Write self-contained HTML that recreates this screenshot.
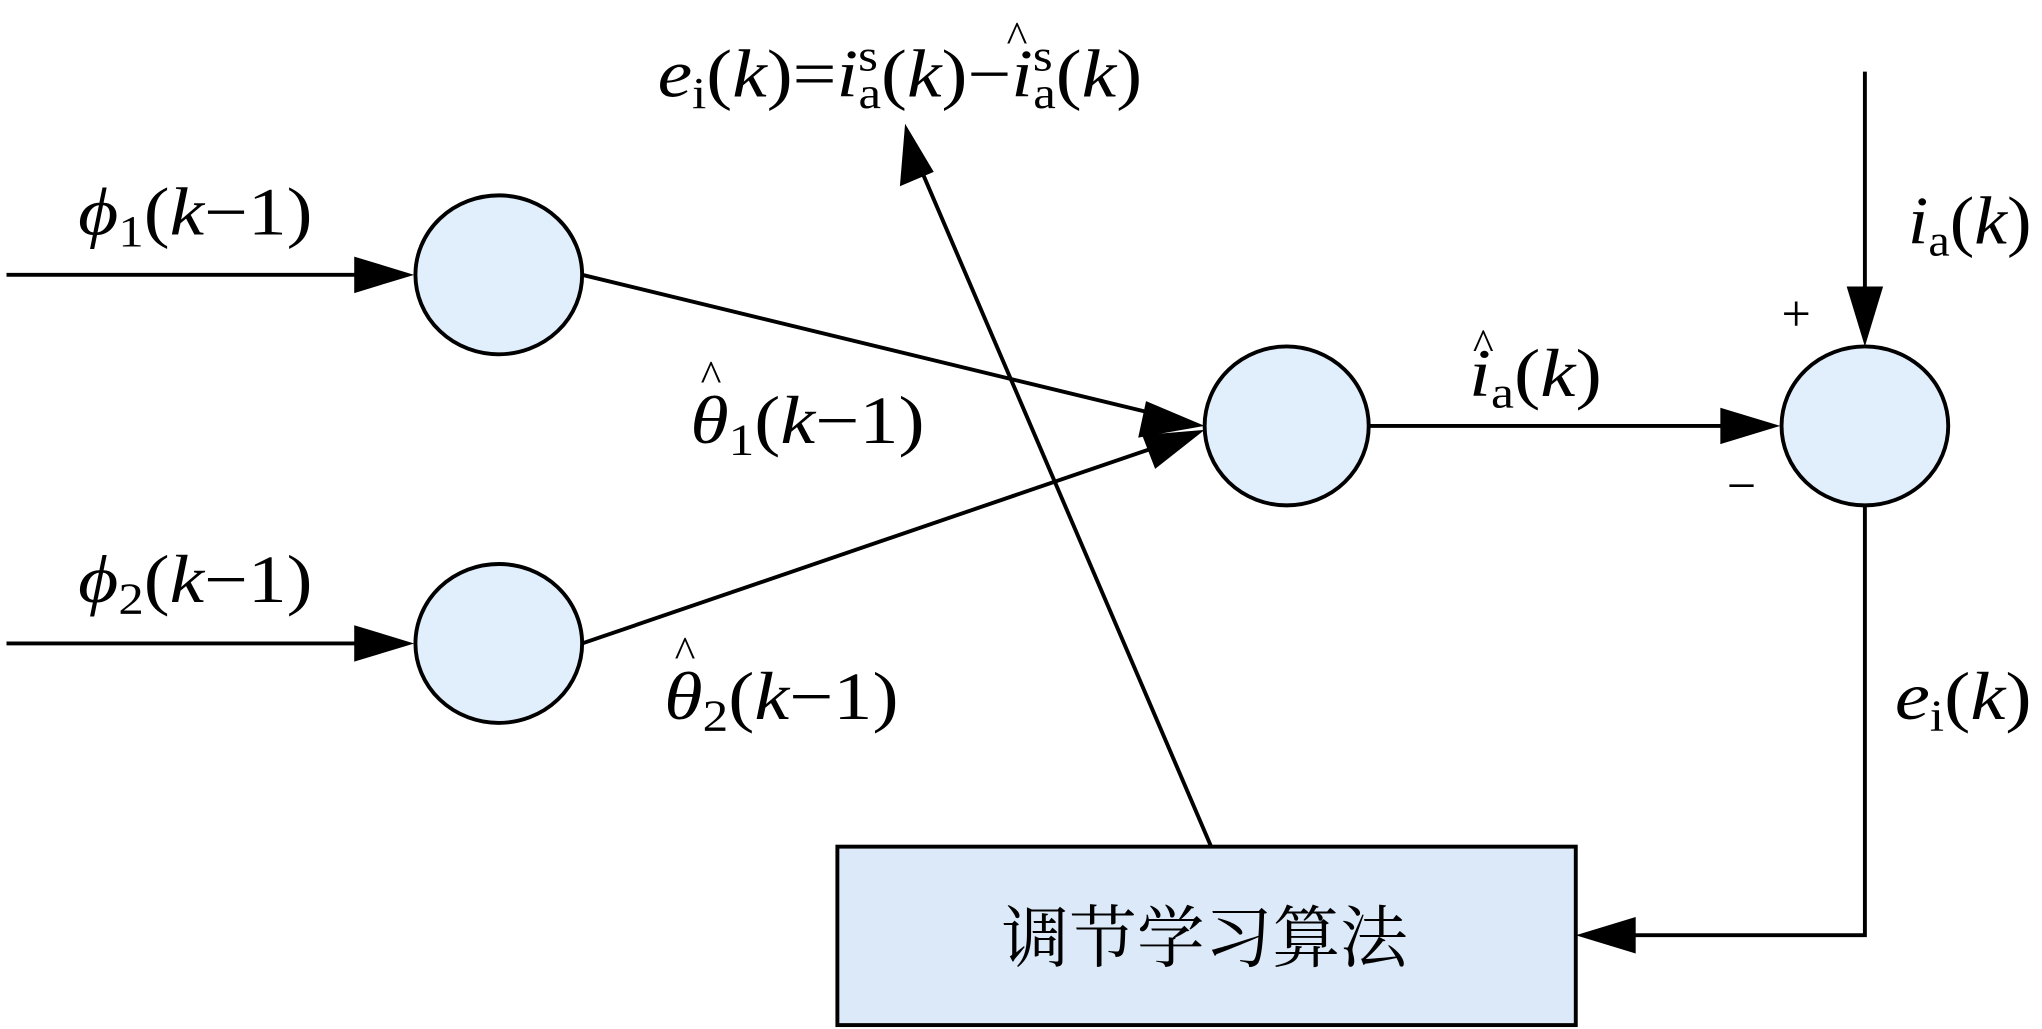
<!DOCTYPE html>
<html><head><meta charset="utf-8"><style>
html,body{margin:0;padding:0;background:#fff;}
svg{display:block;}
text{font-family:"Liberation Serif","Noto Serif CJK SC",serif;font-size:52px;fill:#000;}
.i{font-style:italic;}
.s{font-size:34px;}
.h{font-size:34px;}
</style></head><body>
<svg width="2042" height="1029" viewBox="0 0 1568 790" preserveAspectRatio="none" xmlns="http://www.w3.org/2000/svg">
<g stroke="#000" stroke-width="3" fill="none">
<line x1="5" y1="211" x2="300" y2="211"/>
<line x1="5" y1="494" x2="300" y2="494"/>
<line x1="447" y1="211" x2="900" y2="321"/>
<line x1="447" y1="494" x2="900" y2="339"/>
<line x1="1052" y1="327" x2="1345" y2="327"/>
<line x1="1432" y1="55" x2="1432" y2="240"/>
<polyline points="1432,389 1432,718 1235,718"/>
<line x1="930" y1="650" x2="705" y2="125"/>
</g>
<g fill="#000">
<polygon points="318,211 272,197 272,225"/>
<polygon points="318,494 272,480 272,508"/>
<polygon points="925,327 880,308 874,336"/>
<polygon points="925,330 877,334 887,360"/>
<polygon points="1367,327 1321,313 1321,341"/>
<polygon points="1432,266 1418,220 1446,220"/>
<polygon points="1210,718 1256,704 1256,732"/>
<polygon points="695,95 691,143 717,132"/>
</g>
<g fill="#e1eefb" stroke="#000" stroke-width="3">
<ellipse cx="383" cy="211" rx="64" ry="61"/>
<ellipse cx="383" cy="494" rx="64" ry="61"/>
<ellipse cx="988" cy="327" rx="63" ry="61"/>
<ellipse cx="1432" cy="327" rx="64" ry="61"/>
<rect x="643" y="650" width="567" height="137" fill="#dbe9f8"/>
</g>
<text x="925" y="738" text-anchor="middle" style="font-size:52px">调节学习算法</text>
<text x="505" y="74" textLength="372" lengthAdjust="spacingAndGlyphs"><tspan class="i">e</tspan><tspan class="s" dy="9">i</tspan><tspan dy="-9">(</tspan><tspan class="i">k</tspan>)=<tspan class="i">i</tspan><tspan class="s" dy="-20">s</tspan><tspan class="s" dx="-13" dy="29">a</tspan><tspan dy="-9">(</tspan><tspan class="i">k</tspan>)−<tspan class="i">i</tspan><tspan class="s" dy="-20">s</tspan><tspan class="s" dx="-13" dy="29">a</tspan><tspan dy="-9">(</tspan><tspan class="i">k</tspan>)</text>
<text x="773" y="40" class="h">^</text>
<text x="60" y="180" textLength="180" lengthAdjust="spacingAndGlyphs"><tspan class="i">ϕ</tspan><tspan class="s" dy="9">1</tspan><tspan dy="-9">(</tspan><tspan class="i">k</tspan>−1)</text>
<text x="60" y="462" textLength="180" lengthAdjust="spacingAndGlyphs"><tspan class="i">ϕ</tspan><tspan class="s" dy="9">2</tspan><tspan dy="-9">(</tspan><tspan class="i">k</tspan>−1)</text>
<text x="530" y="340" textLength="180" lengthAdjust="spacingAndGlyphs"><tspan class="i">θ</tspan><tspan class="s" dy="9">1</tspan><tspan dy="-9">(</tspan><tspan class="i">k</tspan>−1)</text>
<text x="538" y="300" class="h">^</text>
<text x="510" y="552" textLength="180" lengthAdjust="spacingAndGlyphs"><tspan class="i">θ</tspan><tspan class="s" dy="9">2</tspan><tspan dy="-9">(</tspan><tspan class="i">k</tspan>−1)</text>
<text x="518" y="512" class="h">^</text>
<text x="1128" y="304" textLength="102" lengthAdjust="spacingAndGlyphs"><tspan class="i">i</tspan><tspan class="s" dy="9">a</tspan><tspan dy="-9">(</tspan><tspan class="i">k</tspan>)</text>
<text x="1131" y="276" class="h">^</text>
<text x="1465" y="187" textLength="95" lengthAdjust="spacingAndGlyphs"><tspan class="i">i</tspan><tspan class="s" dy="9">a</tspan><tspan dy="-9">(</tspan><tspan class="i">k</tspan>)</text>
<text x="1455" y="552" textLength="105" lengthAdjust="spacingAndGlyphs"><tspan class="i">e</tspan><tspan class="s" dy="9">i</tspan><tspan dy="-9">(</tspan><tspan class="i">k</tspan>)</text>
<text x="1368" y="254" style="font-size:40px">+</text>
<text x="1326" y="386" style="font-size:40px">−</text>
</svg>
</body></html>
